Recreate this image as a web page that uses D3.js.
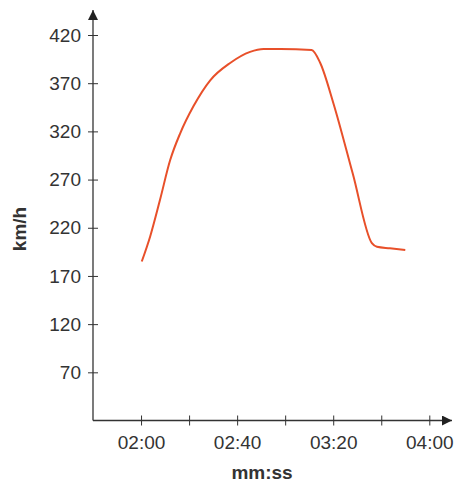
<!DOCTYPE html>
<html>
<head>
<meta charset="utf-8">
<script src="https://cdnjs.cloudflare.com/ajax/libs/d3/7.8.5/d3.min.js"></script>
<style>
    body { margin: 0; background: #fff; }
    svg { display: block; font-family: 'Liberation Sans', Arial, sans-serif; }
    .tick text { font-size: 19px; fill: #333; }
    .axis-label { font-size: 19px; font-weight: bold; fill: #333; }
</style>
</head>
<body>
<svg></svg>
<script>
// time in seconds, speed in km/h
let times  = [120.3, 123.8, 127.9, 132.1, 136.3, 141.8, 148.8, 157.1, 165.4, 171, 178, 191, 194.6, 200.1, 208.1, 216.1, 218.2, 223.6, 230]
let speeds = [185, 211, 249, 290, 318, 346, 373, 391, 402.5, 405.5, 405.5, 404.5, 391, 349, 276.5, 204, 200.3, 198.7, 196.9]
let xTicks = [120, 140, 160, 180, 200, 220, 240]
let xLabeled = [120, 160, 200, 240]
let yTicks = [70, 120, 170, 220, 270, 320, 370, 420]

let width = 459, height = 487
let svg = d3.select('svg')
            .attr('width', width)
            .attr('height', height)

let xScale = d3.scaleLinear()
                .domain([100, 240])
                .range([93, 429.3])
let yScale = d3.scaleLinear()
                .domain([20, 420])
                .range([420.5, 35])

let fmt = s => d3.format('02d')(Math.floor(s / 60)) + ':' + d3.format('02d')(s % 60)

// arrow head
svg.append('defs')
  .append('marker')
    .attr('id', 'arrow')
    .attr('viewBox', '0 0 10 10')
    .attr('refX', 10)
    .attr('refY', 5)
    .attr('markerWidth', 10)
    .attr('markerHeight', 10)
    .attr('markerUnits', 'userSpaceOnUse')
    .attr('orient', 'auto')
  .append('path')
    .attr('d', 'M0,0 L10,5 L0,10 z')
    .attr('fill', '#222')

//Axes lines
svg.append('line')
    .attr('x1', xScale(100)).attr('y1', yScale(20))
    .attr('x2', 452).attr('y2', yScale(20))
    .attr('stroke', '#333').attr('stroke-width', 1.3)
    .attr('marker-end', 'url(#arrow)')
svg.append('line')
    .attr('x1', xScale(100)).attr('y1', yScale(20))
    .attr('x2', xScale(100)).attr('y2', 10)
    .attr('stroke', '#333').attr('stroke-width', 1.3)
    .attr('marker-end', 'url(#arrow)')

let xAxis = d3.axisBottom(xScale)
                .tickValues(xTicks)
                .tickSize(5)
                .tickPadding(10)
                .tickFormat(d => xLabeled.indexOf(d) > -1 ? fmt(d) : '')
let gx = svg.append('g')
    .attr('transform', `translate(0, ${yScale(20)})`)
    .call(xAxis)
gx.select('.domain').remove()
gx.selectAll('.tick line').attr('y1', -5).attr('stroke', '#333')

let yAxis = d3.axisLeft(yScale)
                .tickValues(yTicks)
                .tickSize(5)
                .tickPadding(7)
let gy = svg.append('g')
    .attr('transform', `translate(${xScale(100)}, 0)`)
    .call(yAxis)
gy.select('.domain').remove()
gy.selectAll('.tick line').attr('x1', 5).attr('stroke', '#333')
gx.selectAll('.tick text').attr('fill', '#333')
gy.selectAll('.tick text').attr('fill', '#333')

//Axes labels
svg.append('text')
    .classed('axis-label', true)
    .text('mm:ss')
    .attr('x', 262)
    .attr('y', 479)
    .attr('text-anchor', 'middle')
svg.append('text')
    .classed('axis-label', true)
    .text('km/h')
    .attr('transform', 'translate(26, 229) rotate(-90)')
    .attr('text-anchor', 'middle')

//Speed curve
let line = d3.line()
            .x((d, i) => xScale(times[i]))
            .y(d => yScale(d))
            .curve(d3.curveMonotoneX)
svg.append('path')
    .datum(speeds)
    .attr('d', line)
    .attr('fill', 'none')
    .attr('stroke', '#e8502a')
    .attr('stroke-width', 2)
</script>
</body>
</html>
